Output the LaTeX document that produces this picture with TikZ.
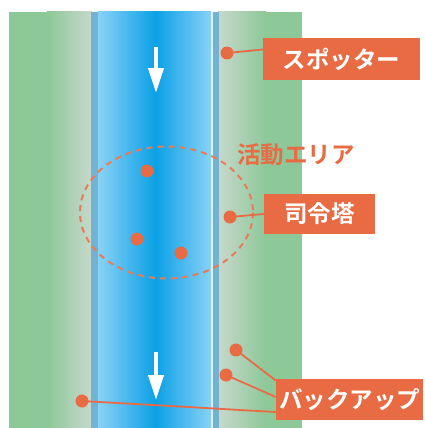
\documentclass[tikz,border=0pt]{standalone}
\usepackage{fontspec}
\newfontfamily\cjk{Noto Sans CJK JP}[BoldFont={Noto Sans CJK JP Bold}]
\usetikzlibrary{arrows.meta}
\definecolor{grn}{HTML}{8CC898}
\definecolor{grnpale}{HTML}{C8D8CC}
\definecolor{bluelt}{HTML}{88D2F6}
\definecolor{bluedk}{HTML}{0AA0E6}
\definecolor{edgeblue}{HTML}{72B2D2}
\definecolor{org}{HTML}{E96B43}
\begin{document}
\begin{tikzpicture}[x=1pt,y=-1pt,
  labelbox/.style={fill=org,text=white,inner sep=0pt,font=\cjk\bfseries\fontsize{23.5}{25}\selectfont},
  dot/.style={circle,fill=org,inner sep=0pt,minimum size=13pt},
  conn/.style={draw=org,line width=1.8pt},
  flow/.style={draw=white,line width=4pt,-{Triangle[length=25pt,width=15pt]}}]
\useasboundingbox (0,0) rectangle (425,428);
\fill[white] (0,0) rectangle (425,428);
% green banks
\fill[grn] (9,12) rectangle (48,428);
\shade[left color=grn,right color=grnpale] (47,12) rectangle (92,428);
\shade[left color=grnpale,right color=grn] (218,12) rectangle (266,428);
\fill[grn] (265,12) rectangle (302,428);
% river
\fill[edgeblue] (91,12) rectangle (99,428);
\fill[edgeblue] (212,12) rectangle (219,428);
\shade[left color=bluelt,right color=bluedk] (98,12) rectangle (156,428);
\shade[left color=bluedk,right color=bluelt] (155,12) rectangle (211,428);
\fill[white!70!bluelt] (211,12) rectangle (212.5,428);
% flow arrows
\coordinate (a1s) at (156,47);
\coordinate (a1e) at (156,93);
\coordinate (a2s) at (156,352);
\coordinate (a2e) at (156,400);
\draw[flow] (a1s) -- (a1e);
\draw[flow] (a2s) -- (a2e);
% activity area
\draw[org!90!white,line width=2pt,dash pattern=on 6pt off 5pt] (166.5,212.5) ellipse [x radius=86.5,y radius=66];
\node[text=org,inner sep=0pt,font=\cjk\bfseries\fontsize{23.5}{25}\selectfont] (area) at (296,155) {活動エリア};
\node[dot] (p1) at (147,171) {};
\node[dot] (p2) at (137,239) {};
\node[dot] (p3) at (181,253) {};
% spotter
\node[labelbox,minimum width=157pt,minimum height=41pt] (spot) at (341.5,59) {スポッター};
\node[dot] (ds) at (227,53) {};
\draw[conn] (ds.center) -- ([yshift=9.5pt]spot.west);
% commander
\node[labelbox,minimum width=111pt,minimum height=40pt] (cmd) at (319.5,214) {司令塔};
\node[dot] (dc) at (230,217) {};
\draw[conn] (dc.center) -- ([yshift=0pt]cmd.west);
% backup
\node[labelbox,minimum width=147pt,minimum height=41pt] (bk) at (349.5,399.5) {バックアップ};
\node[dot] (b1) at (236,350) {};
\node[dot] (b2) at (226,375) {};
\node[dot] (b3) at (82,401) {};
\draw[conn] (b1.center) -- ([yshift=19pt]bk.west);
\draw[conn] (b2.center) -- ([yshift=2.5pt]bk.west);
\draw[conn] (b3.center) -- ([yshift=-12.5pt]bk.west);
\end{tikzpicture}
\end{document}
